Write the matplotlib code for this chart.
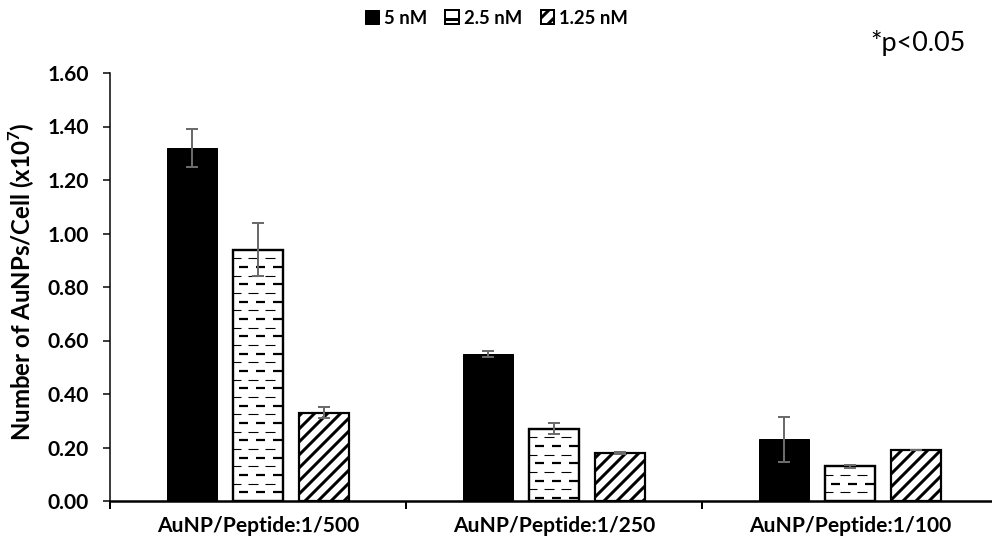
import matplotlib
matplotlib.use("Agg")
import matplotlib.pyplot as plt
from matplotlib.patches import Patch
import numpy as np

# ---- data ----
categories = ["AuNP/Peptide:1/500", "AuNP/Peptide:1/250", "AuNP/Peptide:1/100"]
series_names = ["5 nM", "2.5 nM", "1.25 nM"]
vals_5nM = [1.32, 0.55, 0.23]
vals_2p5nM = [0.94, 0.27, 0.13]
vals_1p25nM = [0.33, 0.18, 0.19]
err_5nM = [0.07, 0.01, 0.085]
err_2p5nM = [0.10, 0.02, 0.005]
err_1p25nM = [0.02, 0.005, 0.0]
y_ticks = [0.0, 0.2, 0.4, 0.6, 0.8, 1.0, 1.2, 1.4, 1.6]

DPI = 78
PX = 72.0 / DPI  # points per pixel

plt.rcParams["font.family"] = ["Lato", "DejaVu Sans"]
plt.rcParams["mathtext.fontset"] = "custom"
plt.rcParams["mathtext.rm"] = "Lato"
plt.rcParams["mathtext.bf"] = "Lato:bold"
plt.rcParams["lines.scale_dashes"] = False
plt.rcParams["hatch.linewidth"] = 3.0 * PX
plt.rcParams["hatch.color"] = "black"

fig = plt.figure(figsize=(993 / DPI, 545 / DPI), dpi=DPI)
ax_left, ax_bottom, ax_w, ax_h = 110 / 993, 44 / 545, 888 / 993, 428 / 545
ax = fig.add_axes([ax_left, ax_bottom, ax_w, ax_h])

x = np.arange(len(categories))
width = 0.172
offset = 0.223
ymax = 1.6

err_kw = dict(ecolor="#6b6b6b", elinewidth=2 * PX, capsize=6 * PX,
              capthick=2 * PX, zorder=4)

b1 = ax.bar(x - offset, vals_5nM, width, color="black", edgecolor="black",
            linewidth=1 * PX, yerr=err_5nM, error_kw=err_kw, zorder=2)
b2 = ax.bar(x, vals_2p5nM, width, color="white", edgecolor="black",
            linewidth=2.2 * PX, yerr=err_2p5nM, error_kw=err_kw, zorder=2)
b3 = ax.bar(x + offset, vals_1p25nM, width, color="white", edgecolor="black",
            linewidth=2.2 * PX, hatch="//", yerr=err_1p25nM, error_kw=err_kw,
            zorder=2)

# brick-like dashed fill for the 2.5 nM bars
px_per_unit = ax_h * 545 / ymax
row_dy = 8.67 / px_per_unit
for rect in b2:
    x0 = rect.get_x()
    x1 = x0 + rect.get_width()
    top = rect.get_height()
    k = 1
    while k * row_dy < top - 0.3 * row_dy:
        yy = top - k * row_dy
        if k % 2 == 1:
            ls = (2 * PX, (10 * PX, 7 * PX))
            lw = 1.1 * PX
        else:
            ls = (-6 * PX, (9 * PX, 8 * PX))
            lw = 2.2 * PX
        ln, = ax.plot([x0, x1], [yy, yy], color="black", lw=lw, linestyle=ls,
                      solid_capstyle="butt", dash_capstyle="butt", zorder=2.5)
        ln.set_clip_path(rect)
        k += 1
    # outline drawn again above the pattern
    ax.bar(rect.get_x() + rect.get_width() / 2, top, rect.get_width(),
           fill=False, edgecolor="black", linewidth=2.2 * PX, zorder=2.6)

ax.set_ylim(0, ymax)
ax.set_xlim(-0.5, 2.5)
ax.set_yticks(y_ticks)
ax.set_yticklabels([f"{v:.2f}" for v in y_ticks], fontsize=21 * PX,
                   fontweight="bold")
ax.set_xticks(x)
ax.set_xticklabels(categories, fontsize=21 * PX, fontweight="bold")
ax.set_xticks([-0.5, 0.5, 1.5, 2.5], minor=True)
ax.tick_params(axis="x", which="major", length=0, pad=15 * PX)
ax.tick_params(axis="x", which="minor", length=8 * PX, width=2 * PX,
               direction="out")
ax.tick_params(axis="y", length=7 * PX, width=1.5 * PX, direction="out",
               pad=14 * PX)

for s in ("top", "right"):
    ax.spines[s].set_visible(False)
ax.spines["bottom"].set_linewidth(2.5 * PX)
ax.spines["left"].set_linewidth(1.5 * PX)

ax.set_ylabel("Number of AuNPs/Cell (x10$^{\\mathbf{7}}$)", fontsize=24 * PX,
              fontweight="bold", labelpad=10 * PX)
ax.yaxis.set_label_coords(-0.082, 0.512)

fig.text(918 / 993, 1 - 43 / 545, "*p<0.05", fontsize=27 * PX, ha="center",
         va="center")

handles = [
    Patch(facecolor="black", edgecolor="black", linewidth=1 * PX),
    Patch(facecolor="white", edgecolor="black", linewidth=2 * PX, hatch="-"),
    Patch(facecolor="white", edgecolor="black", linewidth=2 * PX, hatch="//"),
]
fig.legend(handles, series_names, loc="center", bbox_to_anchor=(0.5, 1 - 18 / 545),
           ncol=3, frameon=False, prop=dict(size=18.5 * PX, weight="bold"),
           handlelength=0.75, handleheight=0.75, handletextpad=0.25,
           columnspacing=1.0)

fig.savefig("out.png", dpi=DPI)
